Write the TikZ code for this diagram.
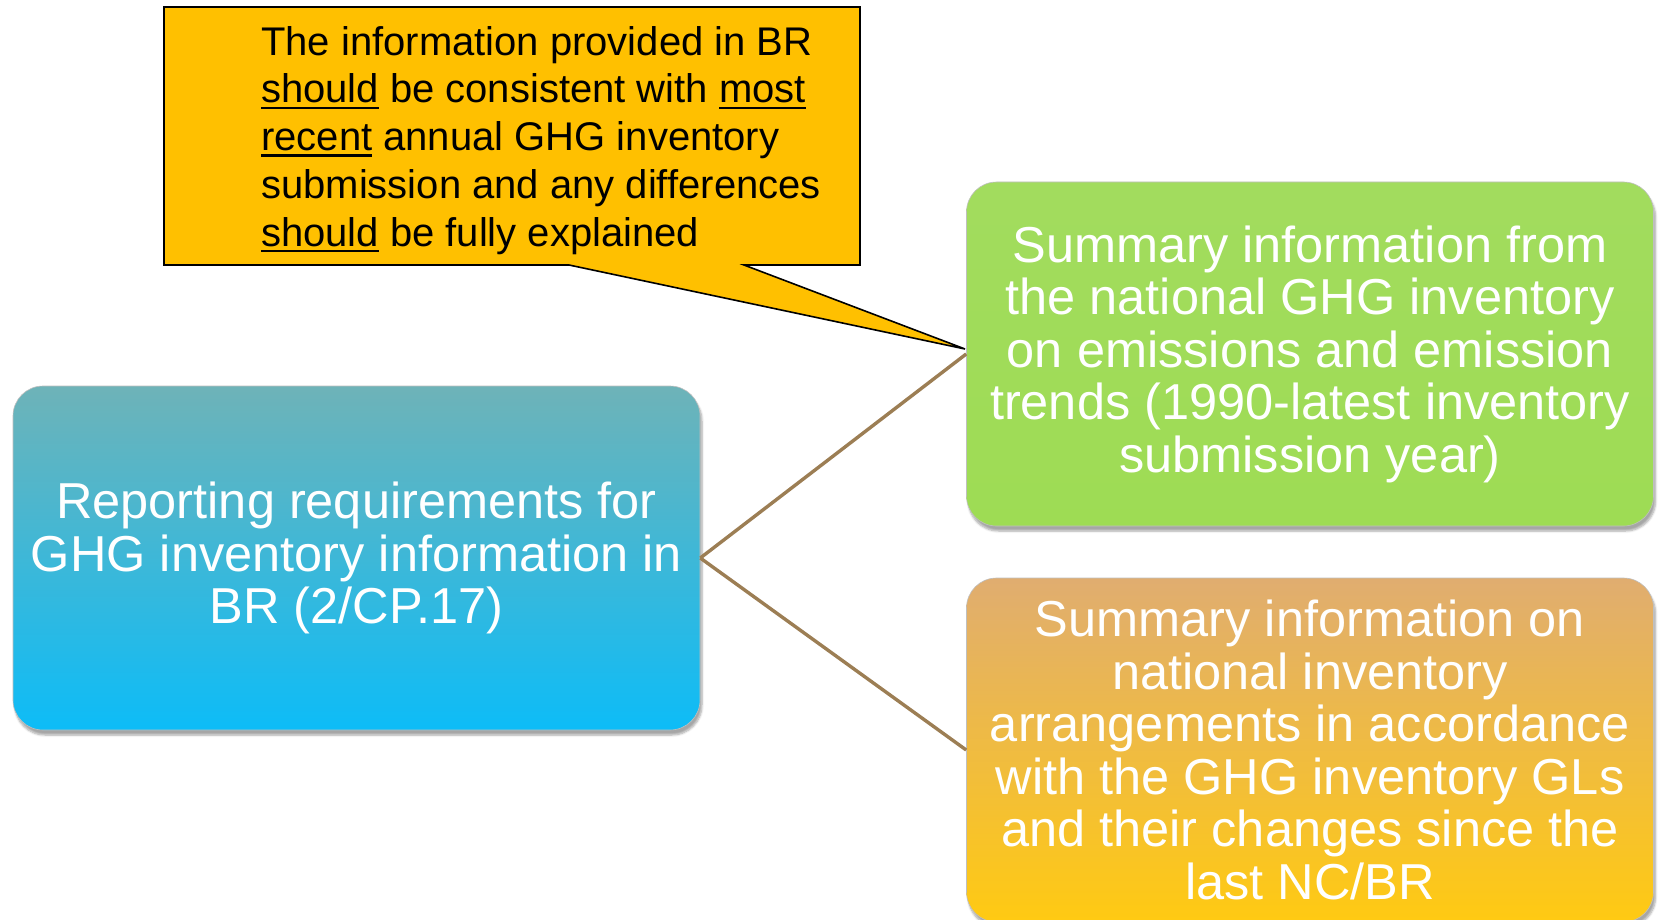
\documentclass[tikz,border=0pt]{standalone}
\usepackage{fontspec}
\setmainfont{Liberation Sans}
\newcommand\ulin[1]{\leavevmode\setbox0\hbox{#1}\rlap{\rule[-6pt]{\wd0}{2.3pt}}\box0\relax}
\usetikzlibrary{shadows.blur}
\definecolor{calloutfill}{HTML}{FFC000}
\definecolor{bluetop}{HTML}{6EB3B8}
\definecolor{bluebot}{HTML}{0DBCF7}
\definecolor{greentop}{HTML}{A2DC5E}
\definecolor{greenbot}{HTML}{9EDC54}
\definecolor{orangetop}{HTML}{E0AD70}
\definecolor{orangebot}{HTML}{FFCA12}
\definecolor{connbrown}{HTML}{9C7E54}
\tikzset{
  box/.style={rounded corners=30pt, minimum width=687pt, minimum height=344pt,
    inner sep=0pt, align=center, text=white, draw=black!25, line width=0.6pt,
    font=\fontsize{50.5}{52.5}\selectfont,
    blur shadow={shadow blur steps=6, shadow xshift=2pt, shadow yshift=-5pt, shadow opacity=35}},
  conn/.style={draw=connbrown, line width=3.4pt},
  callouttext/.style={anchor=north west, inner sep=0pt, align=left, text=black,
    font=\fontsize{40}{47.8}\selectfont}
}
\begin{document}
\begin{tikzpicture}[x=1pt,y=-1pt]
\useasboundingbox (0,0) rectangle (1659,920);
% callout
\draw[fill=calloutfill, line width=1.6pt, line join=miter]
  (164,7) -- (860,7) -- (860,265) -- (744,265) -- (965,349) -- (569,265) -- (164,265) -- cycle;
\node[callouttext] (callout) at (261,26)
  {The information provided in BR\\
   \ulin{should} be consistent with \ulin{most}\\
   \ulin{recent} annual GHG inventory\\
   submission and any differences\\
   \ulin{should} be fully explained};
% boxes
\node[box, top color=bluetop, bottom color=bluebot] (blue) at (356.5,558)
  {Reporting requirements for\\GHG inventory information in\\BR (2/CP.17)};
\node[box, top color=greentop, bottom color=greenbot] (green) at (1310,354)
  {Summary information from\\the national GHG inventory\\on emissions and emission\\trends (1990-latest inventory\\submission year)};
\node[box, top color=orangetop, bottom color=orangebot] (orange) at (1310,750)
  {Summary information on\\national inventory\\arrangements in accordance\\with the GHG inventory GLs\\and their changes since the\\last NC/BR};
% connectors
\draw[conn] (blue.east) -- (green.west);
\draw[conn] (blue.east) -- (orange.west);
\end{tikzpicture}
\end{document}
